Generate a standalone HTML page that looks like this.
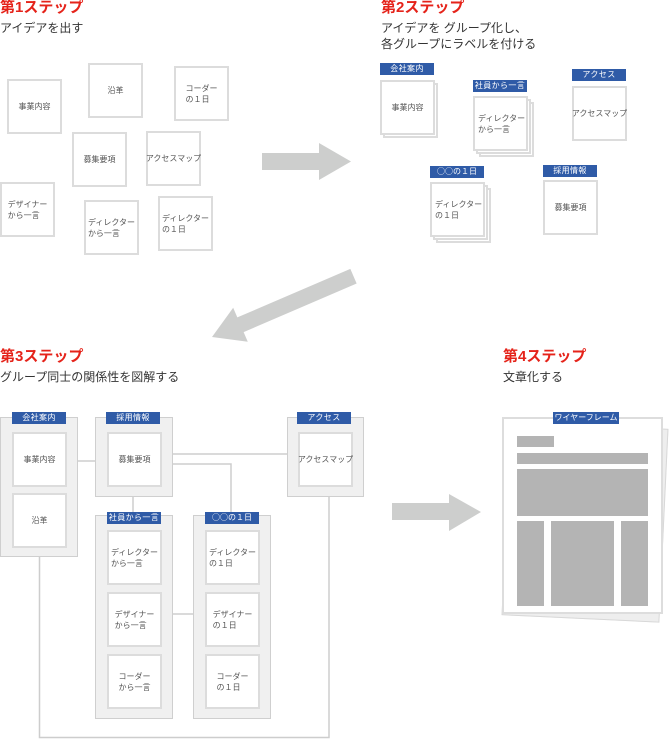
<!DOCTYPE html>
<html><head><meta charset="utf-8">
<style>
html,body{margin:0;padding:0;background:#fff;}
body{width:670px;height:739px;position:relative;overflow:hidden;font-family:"Liberation Sans","Noto Sans CJK JP",sans-serif;}
.t{position:absolute;color:#e5231a;font-size:15px;line-height:16px;font-weight:bold;white-space:nowrap;}
.s{position:absolute;color:#333;font-size:12px;line-height:16px;white-space:nowrap;}
.c{position:absolute;box-sizing:border-box;width:55px;height:55px;background:#fff;border:2px solid #dcdcdc;display:flex;align-items:center;justify-content:center;font-size:8px;line-height:11px;color:#555;}
.c span{display:inline-block;text-align:left;white-space:nowrap;}
.l{position:absolute;box-sizing:border-box;width:54px;height:12px;background:#2f5ba7;color:#fff;font-size:8px;line-height:12px;text-align:center;white-space:nowrap;letter-spacing:0.4px;}
.cj{font-family:"Noto Sans CJK JP",sans-serif;letter-spacing:0;}
.g{position:absolute;box-sizing:border-box;background:#f0f0f0;border:1px solid #cfcfcf;}
.b{position:absolute;background:#b4b4b4;}
svg{position:absolute;left:0;top:0;}
</style></head><body>

<svg width="670" height="739">
<g fill="none" stroke="#cdcdcd" stroke-width="1.5">
<path d="M77 461 H95"/>
<path d="M172 454 H287"/>
<path d="M172 464 H231 V515"/>
<path d="M133 497 V515"/>
<path d="M172 614 H193"/>
<path d="M39.5 557 V737.5 H329 V497"/>
</g>
<g fill="#cdcecd">
<polygon points="262,153 319,153 319,143 351,161.5 319,180 319,170 262,170"/>
<polygon points="392,503 449,503 449,494 481,512 449,531 449,520 392,520"/>
<polygon transform="translate(212,337) rotate(156.75)" points="-154,-8 -31,-8 -31,-18.5 0,0 -31,18.5 -31,8 -154,8"/>
</g>
</svg>

<!-- Step 1 -->
<div class="t" style="left:0;top:0;">第1ステップ</div>
<div class="s" style="left:0;top:20px;">アイデアを出す</div>
<div class="c" style="left:7px;top:79px;"><span>事業内容</span></div>
<div class="c" style="left:88px;top:63px;"><span>沿革</span></div>
<div class="c" style="left:174px;top:66px;"><span>コーダー<br>の１日</span></div>
<div class="c" style="left:72px;top:132px;"><span>募集要項</span></div>
<div class="c" style="left:146px;top:131px;"><span>アクセスマップ</span></div>
<div class="c" style="left:0;top:182px;"><span>デザイナー<br>から一言</span></div>
<div class="c" style="left:84px;top:200px;"><span>ディレクター<br>から一言</span></div>
<div class="c" style="left:158px;top:196px;"><span>ディレクター<br>の１日</span></div>

<!-- Step 2 -->
<div class="t" style="left:381px;top:0;">第2ステップ</div>
<div class="s" style="left:381px;top:20px;">アイデアを グループ化し、<br>各グループにラベルを付ける</div>

<div class="l" style="left:380px;top:63px;">会社案内</div>
<div class="c" style="left:383px;top:83px;"></div>
<div class="c" style="left:380px;top:80px;"><span>事業内容</span></div>

<div class="l" style="left:473px;top:80px;">社員から一言</div>
<div class="c" style="left:479px;top:102px;"></div>
<div class="c" style="left:476px;top:99px;"></div>
<div class="c" style="left:473px;top:96px;justify-content:flex-start;padding-left:3px;"><span>ディレクター<br>から一言</span></div>

<div class="l" style="left:572px;top:69px;">アクセス</div>
<div class="c" style="left:572px;top:86px;"><span>アクセスマップ</span></div>

<div class="l cj" style="left:430px;top:166px;">○○の１日</div>
<div class="c" style="left:436px;top:188px;"></div>
<div class="c" style="left:433px;top:185px;"></div>
<div class="c" style="left:430px;top:182px;justify-content:flex-start;padding-left:3px;"><span>ディレクター<br>の１日</span></div>

<div class="l" style="left:543px;top:165px;">採用情報</div>
<div class="c" style="left:543px;top:180px;"><span>募集要項</span></div>

<!-- Step 3 -->
<div class="t" style="left:0;top:349px;">第3ステップ</div>
<div class="s" style="left:0;top:369px;">グループ同士の関係性を図解する</div>

<div class="g" style="left:0;top:417px;width:78px;height:140px;"></div>
<div class="l" style="left:12px;top:412px;">会社案内</div>
<div class="c" style="left:12px;top:432px;"><span>事業内容</span></div>
<div class="c" style="left:12px;top:493px;"><span>沿革</span></div>

<div class="g" style="left:95px;top:417px;width:78px;height:80px;"></div>
<div class="l" style="left:106px;top:412px;">採用情報</div>
<div class="c" style="left:107px;top:432px;"><span>募集要項</span></div>

<div class="g" style="left:287px;top:417px;width:77px;height:80px;"></div>
<div class="l" style="left:297px;top:412px;">アクセス</div>
<div class="c" style="left:298px;top:432px;"><span>アクセスマップ</span></div>

<div class="g" style="left:95px;top:515px;width:78px;height:204px;"></div>
<div class="l" style="left:107px;top:512px;">社員から一言</div>
<div class="c" style="left:107px;top:530px;"><span>ディレクター<br>から一言</span></div>
<div class="c" style="left:107px;top:592px;"><span>デザイナー<br>から一言</span></div>
<div class="c" style="left:107px;top:654px;"><span>コーダー<br>から一言</span></div>

<div class="g" style="left:193px;top:515px;width:78px;height:204px;"></div>
<div class="l cj" style="left:205px;top:512px;">○○の１日</div>
<div class="c" style="left:205px;top:530px;"><span>ディレクター<br>の１日</span></div>
<div class="c" style="left:205px;top:592px;"><span>デザイナー<br>の１日</span></div>
<div class="c" style="left:205px;top:654px;"><span>コーダー<br>の１日</span></div>

<!-- Step 4 -->
<div class="t" style="left:503px;top:349px;">第4ステップ</div>
<div class="s" style="left:503px;top:369px;">文章化する</div>

<div style="position:absolute;box-sizing:border-box;left:506px;top:425px;width:158px;height:194px;background:#eeeeee;border:1px solid #d8d8d8;transform:rotate(2.7deg);"></div>
<div style="position:absolute;box-sizing:border-box;left:502px;top:417px;width:161px;height:197px;background:#fff;border:2px solid #dddddd;"></div>
<div class="l" style="left:553px;top:412px;width:66px;letter-spacing:0;">ワイヤーフレーム</div>
<div class="b" style="left:517px;top:436px;width:37px;height:11px;"></div>
<div class="b" style="left:517px;top:453px;width:131px;height:11px;"></div>
<div class="b" style="left:517px;top:469px;width:131px;height:47px;"></div>
<div class="b" style="left:517px;top:521px;width:27px;height:85px;"></div>
<div class="b" style="left:551px;top:521px;width:63px;height:85px;"></div>
<div class="b" style="left:621px;top:521px;width:27px;height:85px;"></div>

</body></html>
